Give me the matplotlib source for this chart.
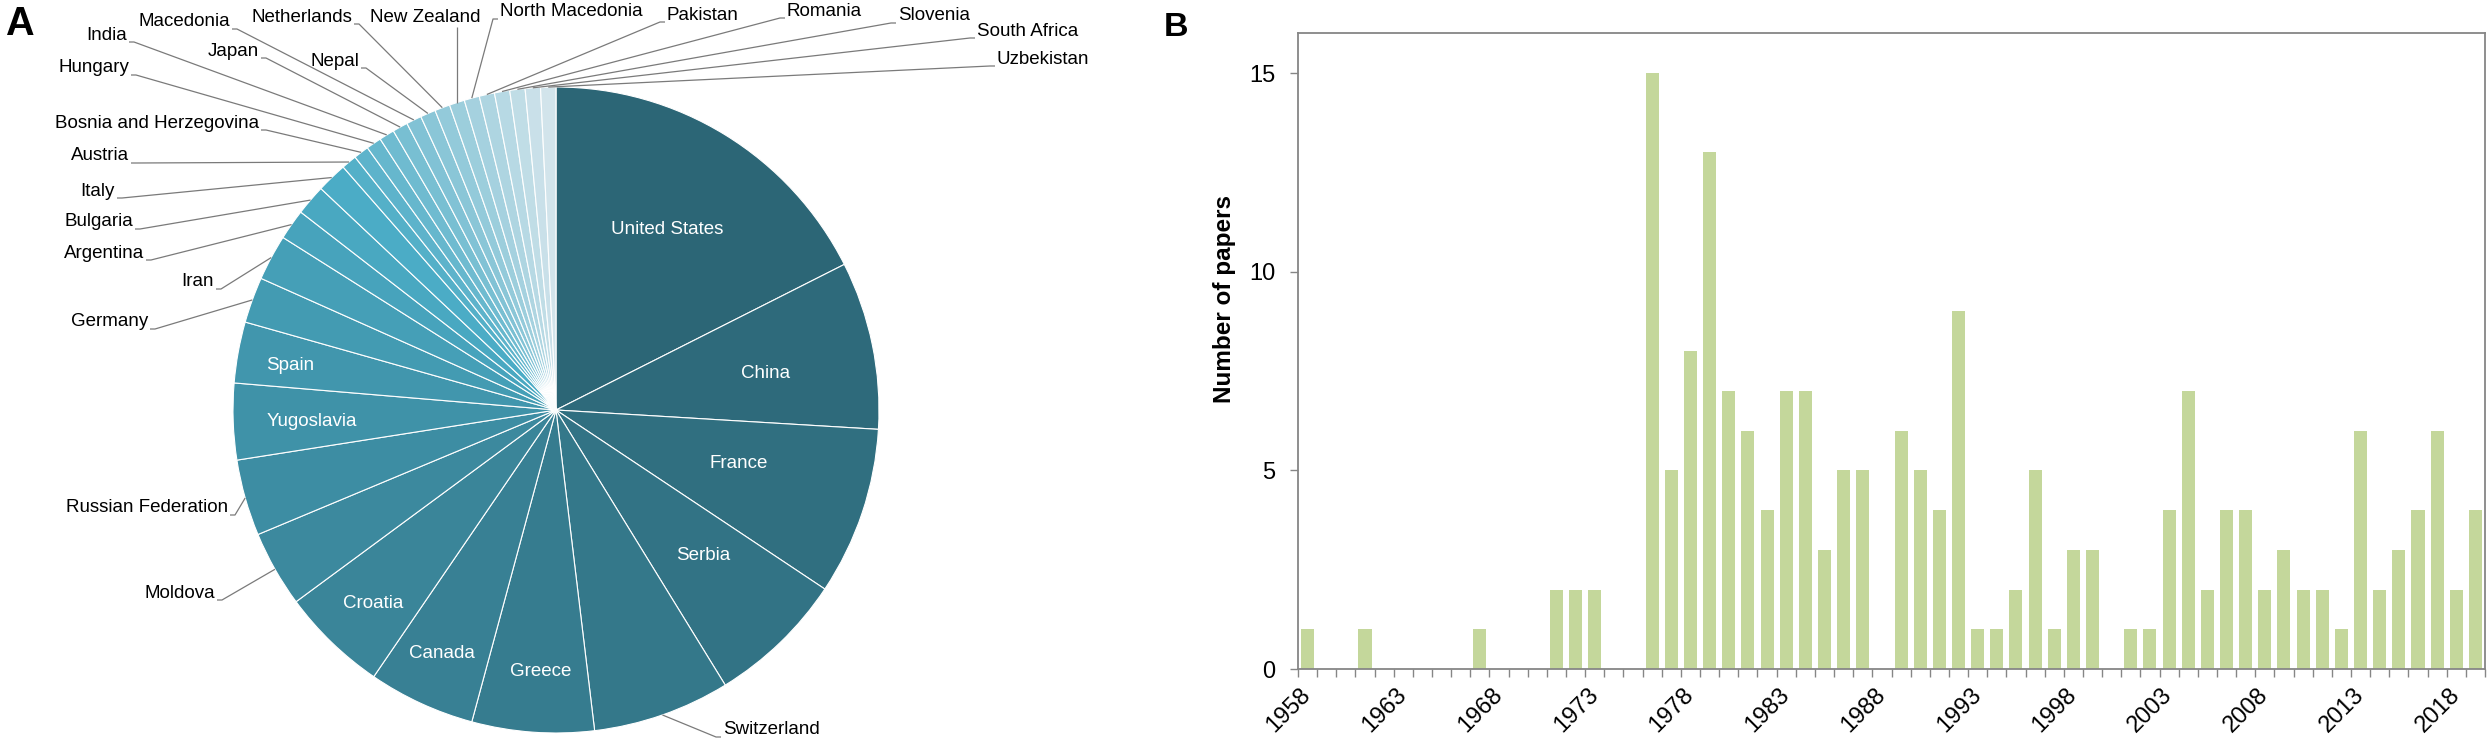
import numpy as np
import matplotlib as mpl
import matplotlib.pyplot as plt
from matplotlib.colors import to_rgb

# ---- data -------------------------------------------------------------
COUNTRIES = ["United States", "China", "France", "Serbia", "Switzerland", "Greece",
             "Canada", "Croatia", "Moldova", "Russian Federation", "Yugoslavia",
             "Spain", "Germany", "Iran", "Argentina", "Bulgaria", "Italy", "Austria",
             "Bosnia and Herzegovina", "Hungary", "India", "Japan", "Macedonia",
             "Nepal", "Netherlands", "New Zealand", "North Macedonia", "Pakistan",
             "Romania", "Slovenia", "South Africa", "Uzbekistan"]
COUNTRY_PAPERS = [23, 11, 11, 9, 9, 8, 7, 7, 5, 5, 5, 4, 3, 3, 2, 2, 2,
                  1, 1, 1, 1, 1, 1, 1, 1, 1, 1, 1, 1, 1, 1, 1]

YEARS = list(range(1958, 2020))
PAPERS = [1, 0, 0, 1, 0, 0, 0, 0, 0, 1,
          0, 0, 0, 2, 2, 2, 0, 0, 15, 5,
          8, 13, 7, 6, 4, 7, 7, 3, 5, 5,
          0, 6, 5, 4, 9, 1, 1, 2, 5, 1,
          3, 3, 0, 1, 1, 4, 7, 2, 4, 4,
          2, 3, 2, 2, 1, 6, 2, 3, 4, 6,
          2, 4]

# ---- layout (pixels of the 2489x745 canvas) ---------------------------
W, H = 2489, 745
CX, CY, R = 556, 410, 323

INSIDE = {
    "United States": (667, 230), "China": (766, 373), "France": (739, 464),
    "Serbia": (703, 555), "Greece": (541, 671), "Canada": (442, 653),
    "Croatia": (373, 603), "Yugoslavia": (312, 421), "Spain": (290, 365),
}
OUTSIDE = {
    "Switzerland": (723, 730, "left"), "Moldova": (215, 593, "right"),
    "Russian Federation": (228, 508, "right"), "Germany": (148, 322, "right"),
    "Iran": (214, 282, "right"), "Argentina": (144, 253, "right"),
    "Bulgaria": (133, 222, "right"), "Italy": (115, 191, "right"),
    "Austria": (129, 156, "right"), "Bosnia and Herzegovina": (259, 123, "right"),
    "Hungary": (129, 68, "right"), "India": (127, 35, "right"),
    "Japan": (259, 51, "right"), "Macedonia": (230, 22, "right"),
    "Nepal": (359, 61, "right"), "Netherlands": (352, 17, "right"),
    "New Zealand": (425, 17, "center"), "North Macedonia": (500, 12, "left"),
    "Pakistan": (667, 15, "left"), "Romania": (787, 11, "left"),
    "Slovenia": (898, 16, "left"), "South Africa": (977, 31, "left"),
    "Uzbekistan": (997, 59, "left"),
}

BAR_COLOR = "#C4D79B"
FRAME = "#868686"
LEADER = "#7A7A7A"

mpl.rcParams.update({
    "font.family": ["Liberation Sans", "DejaVu Sans"],
})


def slice_colors(n, dark="#2C6676", base="#4BACC6", light="#D2E4EB", mid=16):
    d, b, l = (np.array(to_rgb(c)) for c in (dark, base, light))
    out = []
    for i in range(n):
        if i <= mid:
            t = i / mid
            out.append(d + (b - d) * t)
        else:
            t = (i - mid) / (n - 1 - mid)
            out.append(b + (l - b) * t)
    return out


def d(px, py):
    return (px - CX) / R, (CY - py) / R


def draw_pie(fig):
    x1 = 1160
    ax = fig.add_axes([0, 0, x1 / W, 1])
    vals = np.array(COUNTRY_PAPERS, dtype=float)
    ax.pie(vals, startangle=90, counterclock=False, radius=1,
           colors=slice_colors(len(vals)),
           wedgeprops=dict(edgecolor="white", linewidth=0.8))
    ax.set_aspect("auto")
    ax.set_xlim(-CX / R, (x1 - CX) / R)
    ax.set_ylim((CY - H) / R, CY / R)
    ax.axis("off")

    cum = np.cumsum(vals)
    mids = (cum - vals / 2) / vals.sum() * 2 * np.pi
    for name, th in zip(COUNTRIES, mids):
        ax_pt = (np.sin(th), np.cos(th))
        if name in INSIDE:
            px, py = INSIDE[name]
            ax.text(*d(px, py), name, color="white", fontsize=13.5,
                    ha="center", va="center")
            continue
        px, py, ha = OUTSIDE[name]
        ax.text(*d(px, py), name, color="black", fontsize=13.5,
                ha=ha, va="center")
        if ha == "right":
            pts = [d(px + 2, py + 7), d(px + 7, py + 7), ax_pt]
        elif ha == "left":
            pts = [d(px - 2, py + 7), d(px - 7, py + 7), ax_pt]
        else:
            apx = CX + R * ax_pt[0]
            pts = [d(apx, py + 10), ax_pt]
        xs, ys = zip(*pts)
        ax.plot(xs, ys, color=LEADER, lw=0.9, solid_capstyle="butt")


def draw_bars(fig):
    left, right, top, bottom = 1298, 2485, 33.3, 669
    ax = fig.add_axes([left / W, 1 - bottom / H, (right - left) / W, (bottom - top) / H])
    x = np.arange(len(YEARS))
    ax.bar(x, PAPERS, width=0.68, color=BAR_COLOR, zorder=2)
    ax.set_xlim(-0.5, len(YEARS) - 0.5)
    ax.set_ylim(0, 16)
    ax.set_yticks([0, 5, 10, 15])
    ax.tick_params(axis="y", direction="out", length=5.5, width=1, color=FRAME,
                   labelsize=17, pad=11)
    ax.set_xticks(x[::5])
    ax.set_xticklabels([str(y) for y in YEARS[::5]], rotation=45, ha="right",
                       va="center", rotation_mode="anchor")
    ax.set_xticks(np.arange(-0.5, len(YEARS)), minor=True)
    ax.tick_params(axis="x", which="major", length=0, labelsize=17, pad=16)
    ax.tick_params(axis="x", which="minor", direction="out", length=5.5,
                   width=1, color=FRAME)
    for s in ax.spines.values():
        s.set_color(FRAME)
        s.set_linewidth(1.3)
    ax.set_ylabel("Number of papers", fontsize=17.5, fontweight="bold")
    ax.yaxis.set_label_coords(-0.052, 0.582)


def main():
    fig = plt.figure(figsize=(W / 100, H / 100), dpi=100)
    draw_pie(fig)
    draw_bars(fig)
    fig.text(5 / W, 1 - 35 / H, "A", fontsize=28.5, fontweight="bold",
             ha="left", va="baseline")
    fig.text(1164 / W, 1 - 36 / H, "B", fontsize=24.5, fontweight="bold",
             ha="left", va="baseline")
    fig.savefig("out.png", dpi=100)


if __name__ == "__main__":
    main()
